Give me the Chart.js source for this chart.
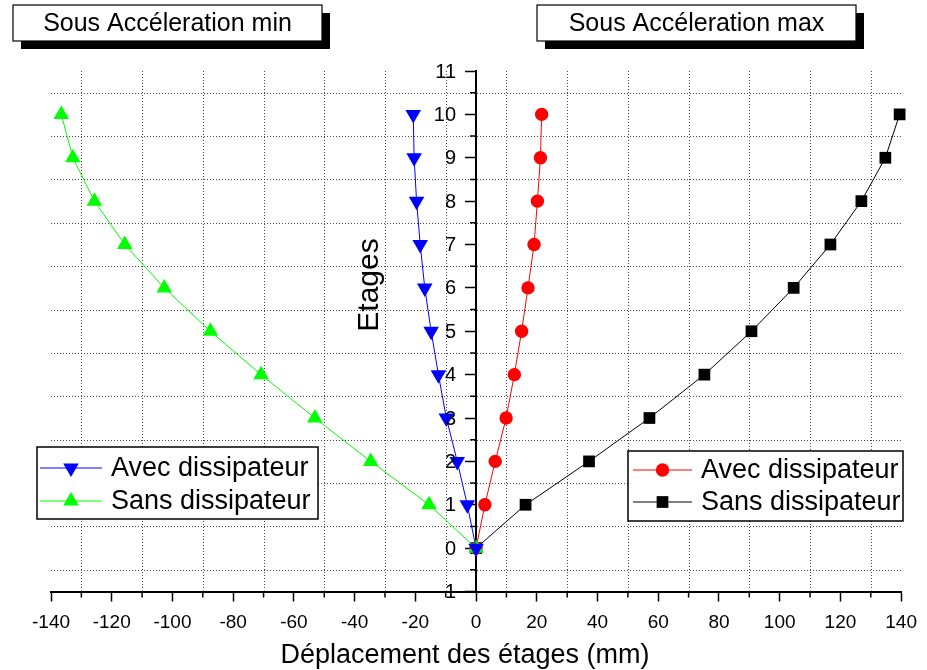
<!DOCTYPE html>
<html>
<head>
<meta charset="utf-8">
<script src="https://cdn.jsdelivr.net/npm/chart.js@4.4.1/dist/chart.umd.min.js"></script>
<style>
  html, body { margin: 0; padding: 0; background: #ffffff; }
  canvas { display: block; }
</style>
</head>
<body>
<canvas id="chart" width="927" height="670"></canvas>
<script>
// Floors and storey displacements (mm)
const etages = [0, 1, 2, 3, 4, 5, 6, 7, 8, 9, 10];
const avecMin = [0, -2.9, -6.2, -9.8, -12.4, -14.8, -16.9, -18.4, -19.6, -20.4, -20.7];
const sansMin = [0, -15.5, -34.7, -53.1, -70.8, -87.5, -102.7, -115.7, -125.7, -132.8, -136.6];
const avecMax = [0, 2.9, 6.3, 9.9, 12.6, 15.0, 17.1, 19.1, 20.2, 21.2, 21.6];
const sansMax = [0, 16.3, 37.2, 57.1, 75.2, 90.7, 104.6, 116.7, 126.9, 134.8, 139.5];

const seriesLabels = ['Avec dissipateur', 'Sans dissipateur'];
const panelTitles = ['Sous Accéleration min', 'Sous Accéleration max'];
const xTitle = 'Déplacement des étages (mm)';
const yTitle = 'Etages';
const xRange = [-140, 140];
const yRange = [-1, 11];
const xStep = 20;
const yStep = 1;

const FONT = "'Liberation Sans', Arial, Helvetica, sans-serif";

const toPoints = vals => etages.map((e, i) => ({ x: vals[i], y: e }));

function series(label, vals, color, style, radius, rotation, side) {
  return {
    label: label,
    data: toPoints(vals),
    borderColor: color,
    backgroundColor: color,
    borderWidth: 1,
    pointStyle: style,
    pointRadius: radius,
    pointHoverRadius: radius,
    pointRotation: rotation,
    pointBorderWidth: 0,
    showLine: true,
    tension: 0,
    clip: false,
    side: side
  };
}

// dotted grid on the minor positions (odd tens / half floors) plus minor ticks
const minorGrid = {
  id: 'minorGrid',
  beforeDatasetsDraw(chart) {
    const { ctx, chartArea: a, scales: { x, y } } = chart;
    ctx.save();
    ctx.strokeStyle = 'rgba(40,40,40,0.85)';
    ctx.lineWidth = 1;
    ctx.setLineDash([1, 2]);
    ctx.beginPath();
    for (let v = xRange[0] + xStep / 2; v < xRange[1]; v += xStep) {
      const px = Math.round(x.getPixelForValue(v)) + 0.5;
      ctx.moveTo(px, a.top);
      ctx.lineTo(px, a.bottom - 1);
    }
    for (let v = yRange[0] + yStep / 2; v < yRange[1]; v += yStep) {
      const py = Math.round(y.getPixelForValue(v)) + 0.5;
      ctx.moveTo(a.left, py);
      ctx.lineTo(a.right, py);
    }
    ctx.stroke();
    ctx.setLineDash([]);
    ctx.strokeStyle = '#000';
    ctx.lineWidth = 1.5;
    ctx.beginPath();
    for (let v = xRange[0] + xStep / 2; v < xRange[1]; v += xStep) {
      const px = x.getPixelForValue(v);
      ctx.moveTo(px, a.bottom);
      ctx.lineTo(px, a.bottom + 6);
    }
    const x0 = x.getPixelForValue(0);
    for (let v = yRange[0] + yStep / 2; v < yRange[1]; v += yStep) {
      const py = y.getPixelForValue(v);
      ctx.moveTo(x0, py);
      ctx.lineTo(x0 - 6, py);
    }
    ctx.stroke();
    ctx.restore();
  }
};

// tick labels of the centred vertical axis, set to the left of its tick marks
const centreAxisLabels = {
  id: 'centreAxisLabels',
  afterDatasetsDraw(chart) {
    const { ctx, scales: { x, y } } = chart;
    const x0 = x.getPixelForValue(0);
    ctx.save();
    ctx.fillStyle = '#000';
    ctx.font = '20px ' + FONT;
    ctx.textAlign = 'right';
    ctx.textBaseline = 'middle';
    y.ticks.forEach(t => {
      ctx.fillText(String(t.label), x0 - 20, y.getPixelForValue(t.value) + 1);
    });
    ctx.restore();
  }
};

function drawMarker(ctx, ds, cx, cy) {
  const opts = {
    pointStyle: ds.pointStyle,
    radius: ds.pointRadius,
    rotation: ds.pointRotation || 0,
    borderWidth: 0
  };
  ctx.fillStyle = ds.backgroundColor;
  ctx.strokeStyle = ds.borderColor;
  Chart.helpers.drawPoint(ctx, opts, cx, cy);
}

function drawLegend(ctx, box, rows, sample, list) {
  ctx.save();
  ctx.fillStyle = '#fff';
  ctx.fillRect(box.x, box.y, box.w, box.h);
  ctx.strokeStyle = '#000';
  ctx.lineWidth = 1.5;
  ctx.strokeRect(box.x, box.y, box.w, box.h);
  list.forEach((ds, i) => {
    const ry = rows[i];
    ctx.strokeStyle = ds.borderColor;
    ctx.lineWidth = 1.2;
    ctx.beginPath();
    ctx.moveTo(sample.x1, ry);
    ctx.lineTo(sample.x2, ry);
    ctx.stroke();
    drawMarker(ctx, ds, (sample.x1 + sample.x2) / 2, ry);
    ctx.fillStyle = '#000';
    ctx.font = '27px ' + FONT;
    ctx.textAlign = 'left';
    ctx.textBaseline = 'middle';
    ctx.fillText(ds.label, sample.text, ry + 1);
  });
  ctx.restore();
}

function drawTitleBox(ctx, box, text) {
  ctx.save();
  ctx.fillStyle = '#000';
  ctx.fillRect(box.x + 8, box.y + 8, box.w, box.h);
  ctx.fillStyle = '#fff';
  ctx.fillRect(box.x, box.y, box.w, box.h);
  ctx.strokeStyle = '#000';
  ctx.lineWidth = 1.2;
  ctx.strokeRect(box.x, box.y, box.w, box.h);
  ctx.fillStyle = '#000';
  ctx.font = '25px ' + FONT;
  ctx.textAlign = 'center';
  ctx.textBaseline = 'middle';
  ctx.fillText(text, box.x + box.w / 2, box.y + box.h / 2 + 1);
  ctx.restore();
}

const decorations = {
  id: 'decorations',
  afterDraw(chart) {
    const { ctx } = chart;
    const ds = chart.data.datasets;
    drawTitleBox(ctx, { x: 13, y: 5, w: 309, h: 36 }, panelTitles[0]);
    drawTitleBox(ctx, { x: 537, y: 5, w: 319, h: 36 }, panelTitles[1]);
    drawLegend(ctx, { x: 37, y: 447, w: 281, h: 72 }, [468, 501],
      { x1: 40, x2: 102, text: 111 }, ds.filter(d => d.side === 'min'));
    drawLegend(ctx, { x: 628, y: 451, w: 275, h: 70 }, [470, 502],
      { x1: 633, x2: 692, text: 701 }, ds.filter(d => d.side === 'max'));
    ctx.save();
    ctx.fillStyle = '#000';
    ctx.textAlign = 'center';
    ctx.textBaseline = 'middle';
    // horizontal axis title
    ctx.font = '27px ' + FONT;
    ctx.fillText(xTitle, 465, 656);
    // vertical axis title
    ctx.translate(370, 285);
    ctx.rotate(-Math.PI / 2);
    ctx.font = '30px ' + FONT;
    ctx.fillText(yTitle, 0, 0);
    ctx.restore();
  }
};

new Chart(document.getElementById('chart'), {
  type: 'line',
  data: {
    datasets: [
      series(seriesLabels[0], avecMin, '#0000ff', 'triangle', 9, 180, 'min'),
      series(seriesLabels[1], sansMin, '#00ff00', 'triangle', 9, 0, 'min'),
      series(seriesLabels[0], avecMax, '#ff0000', 'circle', 6.7, 0, 'max'),
      series(seriesLabels[1], sansMax, '#000000', 'rect', 8.3, 0, 'max')
    ]
  },
  options: {
    responsive: false,
    animation: false,
    devicePixelRatio: 1,
    events: [],
    layout: { padding: { left: 51, right: 20.5, top: 71, bottom: 0 } },
    plugins: { legend: { display: false }, tooltip: { enabled: false } },
    scales: {
      x: {
        type: 'linear',
        position: 'bottom',
        min: xRange[0],
        max: xRange[1],
        ticks: {
          stepSize: xStep,
          color: '#000',
          padding: 10,
          maxRotation: 0,
          font: { family: FONT, size: 19 }
        },
        grid: { drawOnChartArea: false, drawTicks: true, tickLength: 10, tickColor: '#000', tickWidth: 1.5 },
        border: { display: true, color: '#000', width: 2 },
        afterFit(scale) { scale.height = 78.5; }
      },
      y: {
        type: 'linear',
        position: { x: 0 },
        min: yRange[0],
        max: yRange[1],
        ticks: {
          stepSize: yStep,
          display: false
        },
        grid: { drawOnChartArea: false, drawTicks: true, tickLength: 10, tickColor: '#000', tickWidth: 1.5 },
        border: { display: true, color: '#000', width: 2 }
      }
    }
  },
  plugins: [minorGrid, centreAxisLabels, decorations]
});
</script>
</body>
</html>
